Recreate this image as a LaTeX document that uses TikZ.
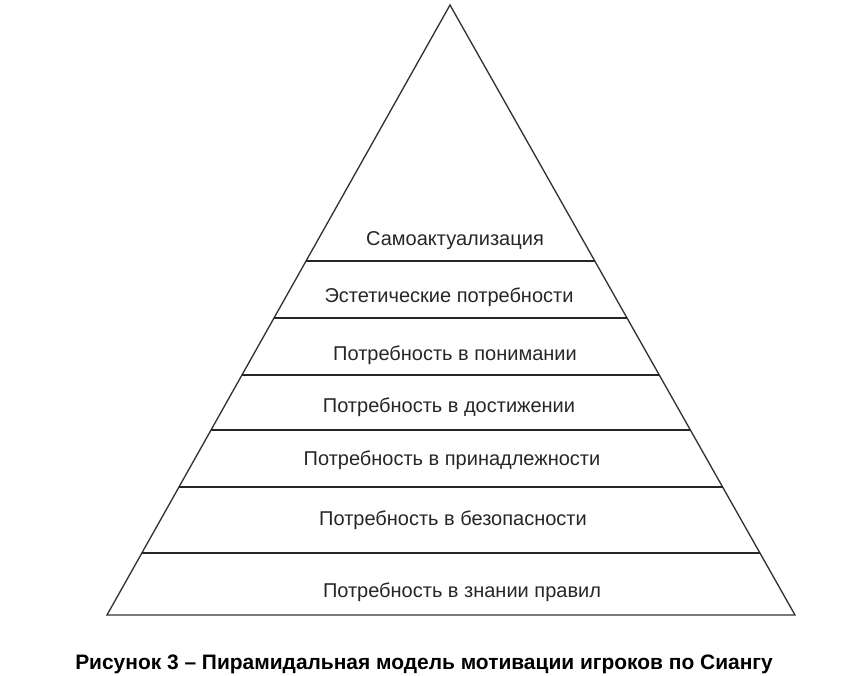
\documentclass[tikz,border=0pt]{standalone}
\usepackage{fontspec}
\setmainfont{Liberation Sans}
\usetikzlibrary{calc}
\tikzset{
  pyredge/.style = {line width=1pt, draw=black!80},
  level/.style   = {line width=1pt, draw=black!85},
  lbl/.style     = {font=\fontsize{15}{17}\selectfont, text=black!85, inner sep=0pt, anchor=base},
  captxt/.style  = {font=\fontsize{15.7}{18}\selectfont\bfseries, inner sep=0pt, anchor=base},
}

\begin{document}
\begin{tikzpicture}[x=0.75pt, y=-0.75pt]
\useasboundingbox (0,0) rectangle (845,675);

%% ---- Pyramid outline ----
\coordinate (apex) at (450, 5);
\coordinate (bl)   at (107, 615);
\coordinate (br)   at (795, 615);
\draw[pyredge, line join=miter] (bl) -- (apex) -- (br) -- cycle;

%% ---- Level separators ----
\foreach \yy/\nm in {261/a, 318/b, 375/c, 430/d, 487/e, 553/f} {
  \coordinate (L\nm) at ($(apex)!{(\yy-5)/610}!(bl)$);
  \coordinate (R\nm) at ($(apex)!{(\yy-5)/610}!(br)$);
  \draw[level] (L\nm) -- (R\nm);
}

%% ---- Level labels ----
\node[lbl] (self)   at (455, 245) {Самоактуализация};
\node[lbl] (aesth)  at (449, 302) {Эстетические потребности};
\node[lbl] (under)  at (455, 360) {Потребность в понимании};
\node[lbl] (achv)   at (449, 412) {Потребность в достижении};
\node[lbl] (belong) at (452, 465) {Потребность в принадлежности};
\node[lbl] (safe)   at (453, 525) {Потребность в безопасности};
\node[lbl] (rules)  at (462, 597) {Потребность в знании правил};

%% ---- Caption ----
\node[captxt] (caption) at (424, 669) {Рисунок 3 -- Пирамидальная модель мотивации игроков по Сиангу};

\end{tikzpicture}
\end{document}
